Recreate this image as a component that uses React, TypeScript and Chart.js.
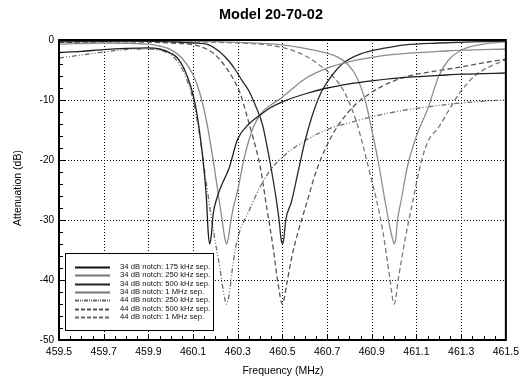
import React, { useEffect, useRef } from "react";
import { Chart, registerables } from "chart.js";

Chart.register(...registerables);

// ---------- Data ----------
const chartTitle = "Model 20-70-02";
const xTitle = "Frequency (MHz)";
const yTitle = "Attenuation (dB)";

const xTicks = [459.5, 459.7, 459.9, 460.1, 460.3, 460.5, 460.7, 460.9, 461.1, 461.3, 461.5];
const yTicks = [0, -10, -20, -30, -40, -50];

const seriesLabels = [
  "34 dB notch: 175 kHz sep.",
  "34 dB notch: 250 kHz sep.",
  "34 dB notch: 500 kHz sep.",
  "34 dB notch: 1 MHz sep.",
  "44 dB notch: 250 kHz sep.",
  "44 dB notch: 500 kHz sep.",
  "44 dB notch: 1 MHz sep.",
];

// 34 dB notch, 175 kHz separation
const f34_175 = [459.5, 459.6, 459.7, 459.8, 459.9, 459.95, 460.0, 460.03, 460.06, 460.09, 460.11, 460.13, 460.15, 460.16, 460.168, 460.175, 460.182, 460.19, 460.21, 460.23, 460.26, 460.3, 460.35, 460.4, 460.45, 460.5, 460.6, 460.7, 460.8, 460.9, 461.0, 461.1, 461.2, 461.3, 461.4, 461.5];
const db34_175 = [-2.1, -1.9, -1.6, -1.4, -1.3, -1.5, -2.2, -3.0, -4.8, -7.8, -10.8, -15.5, -22, -26.5, -32.2, -34, -32.4, -29, -26, -24, -21.5, -16.5, -14, -12.5, -11.2, -10.3, -9.0, -8.0, -7.3, -6.8, -6.4, -6.1, -5.9, -5.7, -5.6, -5.5];

// 34 dB notch, 250 kHz separation
const f34_250 = [459.5, 459.7, 459.9, 459.95, 460.0, 460.05, 460.1, 460.13, 460.16, 460.19, 460.21, 460.23, 460.243, 460.25, 460.257, 460.27, 460.28, 460.3, 460.33, 460.37, 460.41, 460.45, 460.5, 460.6, 460.7, 460.8, 460.9, 461.0, 461.1, 461.2, 461.3, 461.5];
const db34_250 = [-0.7, -0.5, -0.7, -1.0, -1.6, -3.0, -5.8, -8.8, -13.5, -20, -25, -30, -33.2, -34, -33.2, -30, -28, -25, -19.5, -14.5, -12, -10.8, -9.5, -6.5, -4.7, -3.6, -2.9, -2.4, -2.1, -1.9, -1.7, -1.5];

// 34 dB notch, 500 kHz separation
const f34_500 = [459.5, 459.8, 460.0, 460.1, 460.17, 460.22, 460.26, 460.29, 460.32, 460.35, 460.38, 460.41, 460.43, 460.45, 460.47, 460.485, 460.494, 460.5, 460.506, 460.515, 460.54, 460.57, 460.6, 460.63, 460.67, 460.72, 460.77, 460.85, 460.95, 461.05, 461.2, 461.35, 461.5];
const db34_500 = [-0.3, -0.2, -0.3, -0.5, -0.8, -2.0, -3.5, -5.0, -6.8, -8.5, -11, -14, -17.5, -21.5, -26, -30, -33.2, -34, -33.2, -30, -27, -22, -17, -13, -9, -6, -3.9, -2.3, -1.4, -0.8, -0.5, -0.3, -0.2];

// 34 dB notch, 1 MHz separation
const f34_1000 = [459.5, 460.0, 460.3, 460.5, 460.6, 460.7, 460.75, 460.79, 460.83, 460.87, 460.9, 460.93, 460.96, 460.98, 460.993, 461.0, 461.007, 461.015, 461.03, 461.06, 461.1, 461.15, 461.2, 461.24, 461.3, 461.4, 461.5];
const db34_1000 = [-0.2, -0.2, -0.4, -0.8, -1.4, -2.2, -2.9, -4.0, -6.0, -10, -15, -20.5, -27, -31, -33.2, -34, -33.2, -30, -27, -21, -16, -11.5, -6, -3.5, -1.7, -0.7, -0.3];

// 44 dB notch, 250 kHz separation
const f44_250 = [459.5, 459.6, 459.7, 459.8, 459.9, 459.95, 460.0, 460.03, 460.06, 460.1, 460.13, 460.16, 460.19, 460.22, 460.24, 460.25, 460.26, 460.28, 460.3, 460.35, 460.4, 460.45, 460.5, 460.6, 460.73, 460.8, 460.9, 461.0, 461.1, 461.2, 461.3, 461.4, 461.5];
const db44_250 = [-3.0, -2.5, -2.0, -1.6, -1.5, -1.7, -2.4, -3.6, -5.5, -10, -16, -24, -31.5, -38, -42.8, -44, -42.8, -37, -33, -28.5, -24.5, -21.5, -19.5, -16.8, -14.5, -13.8, -12.8, -12.0, -11.4, -10.9, -10.5, -10.2, -10.0];

// 44 dB notch, 500 kHz separation
const f44_500 = [459.5, 459.8, 460.0, 460.1, 460.16, 460.2, 460.24, 460.28, 460.31, 460.34, 460.37, 460.4, 460.43, 460.46, 460.48, 460.5, 460.52, 460.54, 460.57, 460.61, 460.65, 460.7, 460.75, 460.82, 460.9, 461.0, 461.1, 461.2, 461.3, 461.4, 461.5];
const db44_500 = [-0.4, -0.3, -0.5, -0.8, -1.5, -2.5, -4.2, -6.5, -8.8, -12.5, -16.5, -21, -28, -35, -40.5, -44, -40.5, -36.5, -32, -27, -22, -17.5, -14.2, -11, -8.7, -6.8, -5.7, -5.1, -4.5, -3.8, -3.2];

// 44 dB notch, 1 MHz separation
const f44_1000 = [459.5, 460.0, 460.3, 460.45, 460.55, 460.62, 460.68, 460.73, 460.77, 460.8, 460.83, 460.86, 460.89, 460.92, 460.95, 460.98, 461.0, 461.02, 461.05, 461.08, 461.12, 461.15, 461.2, 461.24, 461.29, 461.36, 461.43, 461.5];
const db44_1000 = [-0.2, -0.3, -0.5, -0.9, -1.8, -3.0, -4.6, -6.2, -8.2, -10.5, -13.5, -17.5, -22, -26.5, -32, -39.5, -44, -39.5, -33, -27.5, -20.5, -17, -14.5, -12, -9, -6, -4.4, -3.3];

const seriesFreqs = [f34_175, f34_250, f34_500, f34_1000, f44_250, f44_500, f44_1000];
const seriesDbs = [db34_175, db34_250, db34_500, db34_1000, db44_250, db44_500, db44_1000];

// ---------- Styles ----------
const seriesColors = ["#1e1e1e", "#8c8c8c", "#2a2a2a", "#8f8f8f", "#6e6e6e", "#555555", "#7a7a7a"];
const seriesDash: number[][] = [[], [], [], [], [5, 2, 1, 2, 1, 2], [5, 3], [5, 3]];
const legendColors = ["#111", "#777", "#222", "#777", "#666", "#555", "#666"];
const legendDash: number[][] = [[], [], [], [], [4, 1, 1, 1, 1, 1], [4, 2], [4, 2]];

const FONT = "'Liberation Sans', Arial, Helvetica, sans-serif";

const decorPlugin = {
  id: "decor",
  beforeDatasetsDraw(chart: any) {
    const { ctx, chartArea: a, scales } = chart;
    const x = scales.x;
    const y = scales.y;
    ctx.save();
    ctx.strokeStyle = "#000";
    ctx.lineWidth = 1;
    ctx.setLineDash([1, 2]);
    xTicks.slice(1, -1).forEach((v) => {
      const px = Math.round(x.getPixelForValue(v)) + 0.5;
      ctx.beginPath();
      ctx.moveTo(px, a.top);
      ctx.lineTo(px, a.bottom);
      ctx.stroke();
    });
    yTicks.slice(1, -1).forEach((v) => {
      const py = Math.round(y.getPixelForValue(v)) + 0.5;
      ctx.beginPath();
      ctx.moveTo(a.left, py);
      ctx.lineTo(a.right, py);
      ctx.stroke();
    });
    ctx.restore();
  },
  afterDatasetsDraw(chart: any) {
    const { ctx, chartArea: a, scales } = chart;
    const x = scales.x;
    const y = scales.y;
    ctx.save();
    ctx.strokeStyle = "#000";
    ctx.lineWidth = 1;
    ctx.setLineDash([]);
    for (let v = -48; v <= 0; v += 2) {
      const py = Math.round(y.getPixelForValue(v)) + 0.5;
      const len = v % 10 === 0 ? 6 : 4;
      ctx.beginPath();
      ctx.moveTo(a.left, py);
      ctx.lineTo(a.left + len, py);
      ctx.stroke();
    }
    for (let i = 1; i < 40; i++) {
      const v = 459.5 + i * 0.05;
      const px = Math.round(x.getPixelForValue(v)) + 0.5;
      const len = i % 4 === 0 ? 6 : 4;
      ctx.beginPath();
      ctx.moveTo(px, a.bottom);
      ctx.lineTo(px, a.bottom - len);
      ctx.stroke();
    }
    ctx.lineWidth = 2;
    ctx.strokeRect(a.left, a.top, a.right - a.left, a.bottom - a.top);

    const bx = 65.5, by = 253.5, bw = 148, bh = 77;
    ctx.fillStyle = "#fff";
    ctx.fillRect(bx, by, bw, bh);
    ctx.lineWidth = 1;
    ctx.strokeStyle = "#000";
    ctx.strokeRect(bx, by, bw, bh);
    ctx.font = `7.7px ${FONT}`;
    ctx.textBaseline = "middle";
    ctx.textAlign = "left";
    seriesLabels.forEach((lab, i) => {
      const ry = 267 + i * 8.3;
      ctx.strokeStyle = legendColors[i];
      ctx.lineWidth = 2;
      ctx.setLineDash(legendDash[i]);
      ctx.beginPath();
      ctx.moveTo(75, Math.round(ry) + 0.5);
      ctx.lineTo(110, Math.round(ry) + 0.5);
      ctx.stroke();
      ctx.setLineDash([]);
      ctx.fillStyle = "#111";
      ctx.fillText(lab, 120, ry);
    });
    ctx.restore();
  },
  afterDraw(chart: any) {
    const { ctx } = chart;
    ctx.save();
    ctx.fillStyle = "#000";
    ctx.textAlign = "center";
    ctx.textBaseline = "middle";
    ctx.font = `bold 14.5px ${FONT}`;
    ctx.fillText(chartTitle, 271, 15);
    ctx.font = `10.5px ${FONT}`;
    ctx.fillText(xTitle, 283, 371);
    ctx.translate(18, 188);
    ctx.rotate(-Math.PI / 2);
    ctx.fillText(yTitle, 0, 0);
    ctx.restore();
  },
};

export default function App() {
  const ref = useRef<HTMLCanvasElement | null>(null);
  useEffect(() => {
    if (!ref.current) return;
    const datasets = seriesLabels.map((label, i) => ({
      label,
      data: seriesFreqs[i].map((f, j) => ({ x: f, y: seriesDbs[i][j] })),
      borderColor: seriesColors[i],
      borderWidth: 1.3,
      borderDash: seriesDash[i],
      pointRadius: 0,
      fill: false,
      cubicInterpolationMode: "monotone" as const,
    }));
    const chart = new Chart(ref.current, {
      type: "line",
      data: { datasets },
      options: {
        animation: false,
        responsive: false,
        devicePixelRatio: 1,
        layout: { padding: { top: 40, right: 17, left: 0, bottom: 0 } },
        plugins: {
          legend: { display: false },
          title: { display: false },
          tooltip: { enabled: false },
        },
        scales: {
          x: {
            type: "linear",
            min: 459.5,
            max: 461.5,
            afterBuildTicks: (s: any) => {
              s.ticks = xTicks.map((v) => ({ value: v }));
            },
            afterFit: (s: any) => {
              s.height = 41;
            },
            grid: { display: false, drawTicks: false },
            border: { display: false },
            ticks: {
              autoSkip: false,
              maxRotation: 0,
              padding: 6,
              color: "#000",
              font: { family: FONT, size: 10.5 },
              callback: (v: any) => Number(v).toFixed(1),
            },
          },
          y: {
            type: "linear",
            min: -50,
            max: 0,
            afterBuildTicks: (s: any) => {
              s.ticks = yTicks.map((v) => ({ value: v }));
            },
            afterFit: (s: any) => {
              s.width = 59;
            },
            grid: { display: false, drawTicks: false },
            border: { display: false },
            ticks: {
              padding: 5,
              color: "#000",
              font: { family: FONT, size: 10 },
              callback: (v: any) => String(v),
            },
          },
        },
      },
      plugins: [decorPlugin],
    });
    return () => chart.destroy();
  }, []);
  return (
    <div style={{ position: "fixed", left: 0, top: 0, width: 525, height: 381, background: "#fff" }}>
      <canvas ref={ref} width={525} height={381} style={{ display: "block", width: 525, height: 381 }} />
    </div>
  );
}
